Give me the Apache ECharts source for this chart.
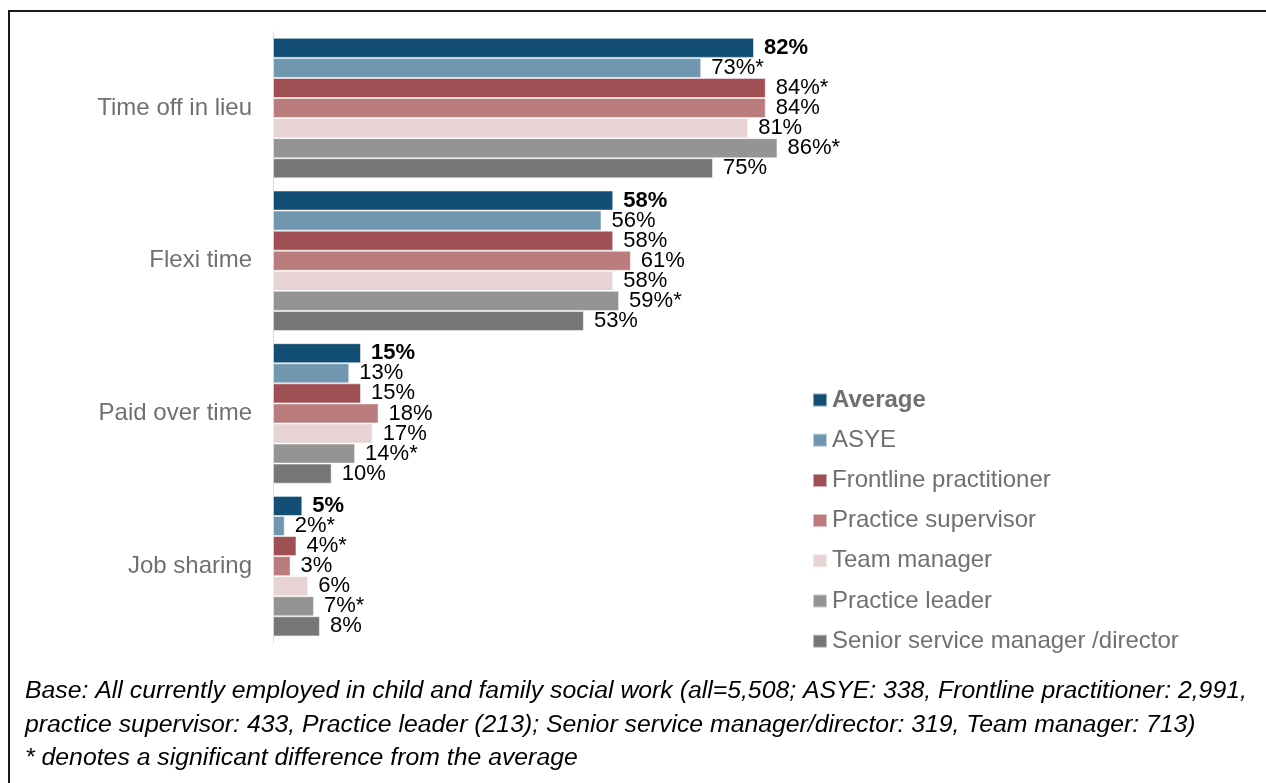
<!DOCTYPE html>
<html>
<head>
<meta charset="utf-8">
<script src="https://cdn.jsdelivr.net/npm/echarts@6/dist/echarts.min.js"></script>
<style>
html,body{margin:0;padding:0;background:#fff;}
#chart{width:1266px;height:783px;}
</style>
</head>
<body>
<div id="chart"></div>
<script>
var categories = ['Time off in lieu', 'Flexi time', 'Paid over time', 'Job sharing'];
var seriesNames = ['Average', 'ASYE', 'Frontline practitioner', 'Practice supervisor', 'Team manager', 'Practice leader', 'Senior service manager /director'];
var average = [82, 58, 15, 5];
var asye = [73, 56, 13, 2];
var frontline = [84, 58, 15, 4];
var supervisor = [84, 61, 18, 3];
var teamManager = [81, 58, 17, 6];
var practiceLeader = [86, 59, 14, 7];
var senior = [75, 53, 10, 8];
// 1 = significant difference from the average (label gets an asterisk)
var sigAverage = [0, 0, 0, 0];
var sigAsye = [1, 0, 0, 1];
var sigFrontline = [1, 0, 0, 1];
var sigSupervisor = [0, 0, 0, 0];
var sigTeamManager = [0, 0, 0, 0];
var sigPracticeLeader = [1, 1, 1, 1];
var sigSenior = [0, 0, 0, 0];
var footnoteLines = [
  'Base: All currently employed in child and family social work (all=5,508; ASYE: 338, Frontline practitioner: 2,991,',
  'practice supervisor: 433, Practice leader (213); Senior service manager/director: 319, Team manager: 713)',
  '* denotes a significant difference from the average'
];

var values = [average, asye, frontline, supervisor, teamManager, practiceLeader, senior];
var sigs = [sigAverage, sigAsye, sigFrontline, sigSupervisor, sigTeamManager, sigPracticeLeader, sigSenior];
var colors = ['#134f74', '#7096b0', '#a05055', '#ba7c7c', '#e8d3d4', '#949494', '#767676'];
var FONT = "'Liberation Sans', Arial, sans-serif";
var GREY = '#707070';

var series = seriesNames.map(function (name, i) {
  return {
    name: name,
    type: 'bar',
    data: values[i],
    barGap: '0%',
    barCategoryGap: '8%',
    itemStyle: { color: colors[i], borderColor: 'rgba(255,255,255,0.5)', borderWidth: 1 },
    label: {
      show: true,
      position: 'right',
      distance: 10,
      fontFamily: FONT,
      fontSize: 22,
      fontWeight: i === 0 ? 'bold' : 'normal',
      color: '#000',
      formatter: function (p) {
        return p.value + '%' + (sigs[i][p.dataIndex] ? '*' : '');
      }
    }
  };
});

var chart = echarts.init(document.getElementById('chart'));
chart.setOption({
  animation: false,
  textStyle: { fontFamily: FONT },
  grid: { left: 273, top: 31.7, height: 610.8, width: 586.6 },
  xAxis: { type: 'value', min: 0, max: 100, show: false },
  yAxis: {
    type: 'category',
    data: categories,
    inverse: true,
    axisTick: { show: false },
    axisLine: { lineStyle: { color: '#d9d9d9', width: 1 } },
    axisLabel: { fontFamily: FONT, fontSize: 24, color: GREY, margin: 21 }
  },
  legend: {
    orient: 'vertical',
    left: 807,
    top: 383,
    itemWidth: 14,
    itemHeight: 13,
    itemGap: 16.2,
    itemTextGap: 4,
    icon: 'rect',
    data: seriesNames,
    formatter: function (name) {
      return name === 'Average' ? '{b|' + name + '}' : '{n|' + name + '}';
    },
    textStyle: {
      fontFamily: FONT,
      fontSize: 24,
      color: GREY,
      rich: {
        b: { fontFamily: FONT, fontSize: 24, fontWeight: 'bold', color: GREY, lineHeight: 24 },
        n: { fontFamily: FONT, fontSize: 24, color: GREY, lineHeight: 24 }
      }
    }
  },
  graphic: [
    {
      type: 'rect',
      shape: { x: 9, y: 11, width: 1300, height: 800 },
      style: { fill: null, stroke: '#1a1a1a', lineWidth: 2 },
      silent: true
    }
  ].concat(footnoteLines.map(function (t, k) {
    return {
      type: 'text',
      left: 25,
      top: 679 + k * 33.5,
      style: { text: t, font: 'italic 24.8px ' + FONT, fill: '#000' }
    };
  })),
  series: series
});
</script>
</body>
</html>
